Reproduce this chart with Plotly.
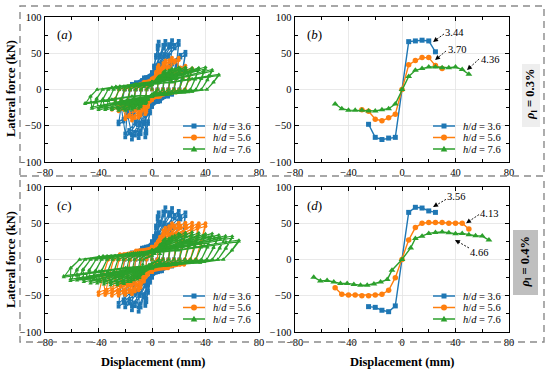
import plotly.graph_objects as go

W, H = 550, 373
FONT = "Liberation Serif"

LABELS = ["3.6", "5.6", "7.6"]
COLORS = ["#1f77b4", "#ff7f0e", "#2ca02c"]
SYMBOLS = ["square", "circle", "triangle-up"]
X_TICKS = [-80, -40, 0, 40, 80]
Y_TICKS = [-100, -50, 0, 50, 100]

# ---- skeleton curves, rho_l = 0.3 % (panel b) ----
B36_X = [-25, -20, -15, -10, -5, 5, 10, 15, 20, 25]
B36_Y = [-48, -66, -69, -67, -66, 66, 67, 68, 67, 52]
B56_X = [-30, -25, -20, -15, -10, -5, 0, 5, 10, 15, 20, 25, 30]
B56_Y = [-28, -30, -41, -43, -39, -34, 0, 34, 40, 44, 44, 33, 29]
B76_X = [-50, -45, -40, -35, -30, -25, -20, -15, -10, -5, 0,
         5, 10, 15, 20, 25, 30, 35, 40, 45, 50]
B76_Y = [-20, -26.5, -28.5, -28.5, -28.5, -29.5, -29.5, -28, -26.5, -20, 0,
         18, 26.5, 29, 31, 31, 30, 30, 31, 27.5, 21]

# ---- skeleton curves, rho_l = 0.4 % (panel d) ----
D36_X = [-25, -20, -15, -10, -5, 5, 10, 15, 20, 25]
D36_Y = [-65, -66, -70, -72, -64, 65, 72, 71, 67, 65]
D56_X = [-50, -45, -40, -35, -30, -25, -20, -15, -10, -5, 0,
         5, 10, 15, 20, 25, 30, 35, 40, 45, 50]
D56_Y = [-39, -48, -49, -49, -50, -50, -49, -48, -42.5, -25, 0,
         27, 44, 50, 51, 51, 51, 50, 50, 50, 42]
D76_X = [-66, -61, -56, -51, -46, -41, -36, -31, -26, -21, -16, -11, -7.5, 0,
         6.5, 10, 15, 20, 25, 30, 35, 40, 45, 50, 55, 60, 65]
D76_Y = [-24.5, -29.6, -29, -31, -33, -33, -34.6, -35.5, -35.5, -33.7, -31, -27.7, -14.8, 0,
         16, 29, 32, 36, 37.4, 38, 37, 35.5, 36, 34, 32.8, 32.3, 26.8]

# ---- hysteresis description (peaks follow the skeleton curves) ----
HYS_LIMIT_03 = [25, 30, 50]     # largest |displacement| reached in panel (a)
HYS_LIMIT_04 = [25, 40, 66]     # largest |displacement| reached in panel (c)
CYCLE_FACTOR = [1.0, 0.92]      # two cycles per displacement level
LOOP_U = [-0.92, -0.82, -0.6, -0.3, 0.0, 0.3, 0.6, 0.85, 1.0]   # fraction of level
LOOP_F = [-0.5, 0.0, 0.15, 0.25, 0.35, 0.5, 0.72, 0.92, 1.0]    # fraction of peak

PEAK_LABELS_03 = ["3.44", "3.70", "4.36"]
PEAK_LABELS_04 = ["3.56", "4.13", "4.66"]


def loops(xs, ys, lim):
    neg = sorted([(x, y) for x, y in zip(xs, ys) if -lim <= x < 0], reverse=True)
    pos = sorted([(x, y) for x, y in zip(xs, ys) if 0 < x <= lim])
    hx, hy = [0.0], [0.0]
    for i in range(min(len(neg), len(pos))):
        dn, fn = neg[i]
        dp, fp = pos[i]
        for ci, k in enumerate(CYCLE_FACTOR):
            for sgn in (1, -1):
                for u, f in zip(LOOP_U, LOOP_F):
                    u, f = sgn * u, sgn * f
                    if i == 0 and ci == 0 and sgn == 1 and u < 0:
                        continue
                    hx.append(u * dp if u >= 0 else u * (-dn))
                    hy.append(f * fp * k if f >= 0 else f * (-fn) * k)
    return hx, hy


def X(px):
    return px / W


def Y(py):
    return 1 - py / H


fig = go.Figure()

# panel geometry in pixels: (left, right, top, bottom)
PANELS = {
    "a": (45, 259, 17, 162),
    "b": (295, 509, 17, 162),
    "c": (45, 259, 187, 332),
    "d": (295, 509, 187, 332),
}
AX = {"a": ("x", "y"), "b": ("x2", "y2"), "c": ("x3", "y3"), "d": ("x4", "y4")}

skel03 = [(B36_X, B36_Y), (B56_X, B56_Y), (B76_X, B76_Y)]
skel04 = [(D36_X, D36_Y), (D56_X, D56_Y), (D76_X, D76_Y)]

for j in range(3):
    hx, hy = loops(skel03[j][0], skel03[j][1], HYS_LIMIT_03[j])
    fig.add_trace(go.Scatter(x=hx, y=hy, xaxis="x", yaxis="y", mode="lines+markers",
                             line=dict(color=COLORS[j], width=1.1),
                             marker=dict(symbol=SYMBOLS[j], size=3.8, color=COLORS[j]),
                             showlegend=False))
    hx, hy = loops(skel04[j][0], skel04[j][1], HYS_LIMIT_04[j])
    fig.add_trace(go.Scatter(x=hx, y=hy, xaxis="x3", yaxis="y3", mode="lines+markers",
                             line=dict(color=COLORS[j], width=1.1),
                             marker=dict(symbol=SYMBOLS[j], size=3.8, color=COLORS[j]),
                             showlegend=False))
for j in range(3):
    msize = [5, 5.5, 6][j]
    fig.add_trace(go.Scatter(x=skel03[j][0], y=skel03[j][1], xaxis="x2", yaxis="y2",
                             mode="lines+markers", line=dict(color=COLORS[j], width=1.4),
                             marker=dict(symbol=SYMBOLS[j], size=msize, color=COLORS[j]),
                             showlegend=False))
    fig.add_trace(go.Scatter(x=skel04[j][0], y=skel04[j][1], xaxis="x4", yaxis="y4",
                             mode="lines+markers", line=dict(color=COLORS[j], width=1.4),
                             marker=dict(symbol=SYMBOLS[j], size=msize, color=COLORS[j]),
                             showlegend=False))

tickfont = dict(family=FONT, size=10.5, color="black")
common = dict(showline=True, linecolor="black", linewidth=1.4, mirror="allticks",
              ticks="inside", ticklen=4, tickcolor="black", tickwidth=1,
              showgrid=True, gridcolor="#e4e4e4", gridwidth=0.8, zeroline=False,
              tickfont=tickfont, automargin=False)
layout_axes = {}
for key, (l, r, t, b) in PANELS.items():
    xa, ya = AX[key]
    xn = "xaxis" + xa[1:]
    yn = "yaxis" + ya[1:]
    layout_axes[xn] = dict(domain=[X(l), X(r)], anchor=ya, range=[-80, 80],
                           tickvals=X_TICKS,
                           minor=dict(dtick=20, tick0=0, ticks="inside", ticklen=3,
                                      tickcolor="black", showgrid=False),
                           **common)
    layout_axes[yn] = dict(domain=[Y(b), Y(t)], anchor=xa, range=[-100, 100],
                           tickvals=Y_TICKS,
                           minor=dict(dtick=25, tick0=0, ticks="inside", ticklen=3,
                                      tickcolor="black", showgrid=False),
                           **common)

shapes = []
annotations = []


def note(text, x, y, size, angle=0, xanchor="center", xref="paper", yref="paper"):
    annotations.append(dict(text=text, xref=xref, yref=yref, x=x, y=y, textangle=angle,
                            showarrow=False, xanchor=xanchor, yanchor="middle",
                            font=dict(family=FONT, size=size, color="black")))


# dashed frames
frame = dict(color="#8a8a8a", width=1.4, dash="7px,5px")
shapes.append(dict(type="rect", xref="paper", yref="paper", x0=X(20), x1=X(544),
                   y0=Y(176), y1=Y(6), line=frame))
shapes.append(dict(type="path", xref="paper", yref="paper",
                   path=f"M {X(20)},{Y(180)} L {X(20)},{Y(342)} L {X(544)},{Y(342)} L {X(544)},{Y(176)}",
                   line=frame))

# reinforcement ratio labels
shapes.append(dict(type="rect", xref="paper", yref="paper", x0=X(522), x1=X(540),
                   y0=Y(127), y1=Y(64), fillcolor="#eeeeee", line=dict(width=0), layer="below"))
shapes.append(dict(type="rect", xref="paper", yref="paper", x0=X(513), x1=X(538),
                   y0=Y(295), y1=Y(230), fillcolor="#bfbfbf", line=dict(width=0), layer="below"))
note("<b><i>ρ</i><sub>l</sub> = 0.3%</b>", X(531), Y(95), 12.5, angle=-90)
note("<b><i>ρ</i><sub>l</sub> = 0.4%</b>", X(525.5), Y(262), 12.5, angle=-90)

# axis titles
for cy in (89, 260):
    note("<b>Lateral force (kN)</b>", X(11), Y(cy), 12.5, angle=-90)
for cx in (153, 402):
    note("<b>Displacement (mm)</b>", X(cx), Y(362), 12.5)

# panel letters and manual legends
for key, (l, r, t, b) in PANELS.items():
    note(f"(<i>{key}</i>)", X(l + 19), Y(t + 18), 13)
    for j in range(3):
        yy = t + 109 + 11.5 * j
        cx = l + 149
        shapes.append(dict(type="line", xref="paper", yref="paper", x0=X(l + 138), x1=X(l + 160),
                           y0=Y(yy), y1=Y(yy), line=dict(color=COLORS[j], width=1.5)))
        if j == 0:
            shapes.append(dict(type="rect", xref="paper", yref="paper", x0=X(cx - 2.5), x1=X(cx + 2.5),
                               y0=Y(yy + 2.5), y1=Y(yy - 2.5), fillcolor=COLORS[j], line=dict(width=0)))
        elif j == 1:
            shapes.append(dict(type="circle", xref="paper", yref="paper", x0=X(cx - 3), x1=X(cx + 3),
                               y0=Y(yy + 3), y1=Y(yy - 3), fillcolor=COLORS[j], line=dict(width=0)))
        else:
            shapes.append(dict(type="path", xref="paper", yref="paper",
                               path=f"M {X(cx)},{Y(yy - 3.3)} L {X(cx - 3.3)},{Y(yy + 2.4)} L {X(cx + 3.3)},{Y(yy + 2.4)} Z",
                               fillcolor=COLORS[j], line=dict(width=0)))
        note(f"<i>h</i>/<i>d</i> = {LABELS[j]}", X(l + 166), Y(yy), 10.5, xanchor="left")

# peak-point call-outs: (text x, text y, tail x, tail y, head x, head y) in data units
CALLOUT_POS_03 = [(39.5, 79.3, 31.4, 76.6, 23.2, 65.5),
                  (41.0, 54.5, 32.9, 53.1, 24.7, 40.7),
                  (65.5, 40.7, 57.6, 42.0, 48.6, 26.9)]
CALLOUT_POS_04 = [(40.0, 86.9, 32.9, 83.0, 23.2, 72.4),
                  (65.0, 63.4, 57.6, 62.0, 47.9, 50.0),
                  (57.5, 10.3, 50.1, 15.9, 39.6, 26.9)]
for (xa, ya), labels, pos in ((("x2", "y2"), PEAK_LABELS_03, CALLOUT_POS_03),
                             (("x4", "y4"), PEAK_LABELS_04, CALLOUT_POS_04)):
    for lab, (tx, ty, ux, uy, hx_, hy_) in zip(labels, pos):
        note(lab, tx, ty, 10.5, xref=xa, yref=ya)
        shapes.append(dict(type="line", xref=xa, yref=ya, x0=ux, y0=uy,
                           x1=ux + 0.75 * (hx_ - ux), y1=uy + 0.75 * (hy_ - uy),
                           line=dict(color="black", width=0.9, dash="2px,1.5px")))
        annotations.append(dict(text="", xref=xa, yref=ya, x=hx_, y=hy_,
                                axref=xa, ayref=ya,
                                ax=ux + 0.7 * (hx_ - ux), ay=uy + 0.7 * (hy_ - uy),
                                showarrow=True, arrowhead=2, arrowsize=1.1, arrowwidth=0.9,
                                arrowcolor="black"))

fig.update_layout(width=W, height=H,
                  margin=dict(l=0, r=0, t=0, b=0, pad=0, autoexpand=False),
                  paper_bgcolor="white", plot_bgcolor="white",
                  shapes=shapes, annotations=annotations, showlegend=False,
                  hovermode=False,
                  font=dict(family=FONT, color="black"), **layout_axes)

fig.write_html("out.html", config={"displayModeBar": False, "staticPlot": True},
               post_script="document.body.style.margin='0';document.body.style.overflow='hidden';")
